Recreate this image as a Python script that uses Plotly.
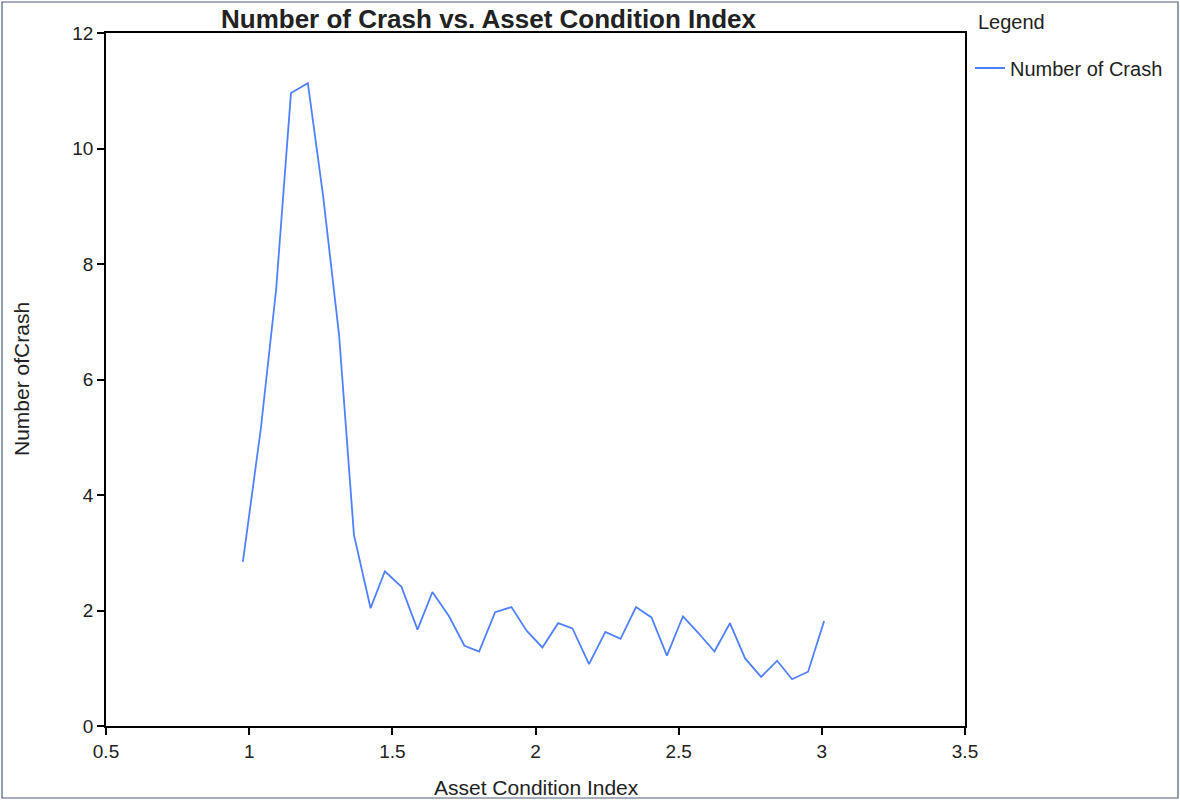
import plotly.graph_objects as go

asset_condition_index = [0.978, 1.041, 1.094, 1.146, 1.205, 1.258, 1.314, 1.366, 1.424, 1.474,
                         1.532, 1.588, 1.640, 1.698, 1.752, 1.803, 1.859, 1.916, 1.969, 2.024,
                         2.079, 2.129, 2.187, 2.244, 2.297, 2.351, 2.405, 2.459, 2.515, 2.569,
                         2.625, 2.679, 2.732, 2.788, 2.844, 2.896, 2.952, 3.008]
number_of_crash = [2.84, 5.16, 7.55, 10.96, 11.13, 9.19, 6.77, 3.31, 2.04, 2.68,
                   2.41, 1.67, 2.32, 1.90, 1.39, 1.29, 1.97, 2.06, 1.65, 1.36,
                   1.78, 1.69, 1.07, 1.63, 1.51, 2.06, 1.88, 1.22, 1.90, 1.61,
                   1.29, 1.78, 1.17, 0.85, 1.13, 0.81, 0.94, 1.82]
x_ticks = [0.5, 1, 1.5, 2, 2.5, 3, 3.5]
x_tick_labels = ["0.5", "1", "1.5", "2", "2.5", "3", "3.5"]
y_ticks = [0, 2, 4, 6, 8, 10, 12]

FONT = "Liberation Sans, Arial, sans-serif"
TXT = "#222222"

W, H = 1180, 801
L, R, T, B = 106, 215, 33, 75
pw, ph = W - L - R, H - T - B


def xp(px):
    return (px - L) / pw


def yp(py):
    return (H - B - py) / ph


fig = go.Figure()
fig.add_trace(go.Scatter(
    x=asset_condition_index, y=number_of_crash, mode="lines",
    name="Number of Crash", line=dict(color="#4f80ff", width=1.8),
))

fig.update_layout(
    width=W, height=H, autosize=False,
    margin=dict(l=L, r=R, t=T, b=B),
    paper_bgcolor="white", plot_bgcolor="white",
    font=dict(family=FONT, size=18, color=TXT),
    showlegend=True,
    legend=dict(
        x=xp(970), y=yp(68), xanchor="left", yanchor="middle",
        font=dict(size=20, family=FONT, color=TXT), bgcolor="rgba(0,0,0,0)",
        itemwidth=30, borderwidth=0,
    ),
    xaxis=dict(
        range=[0.5, 3.5], tickvals=x_ticks, ticktext=x_tick_labels,
        showgrid=False, zeroline=False, showline=True, linecolor="black", linewidth=1.5,
        mirror=True, ticks="outside", ticklen=7, tickcolor="black", tickwidth=1.5,
        tickfont=dict(size=19, family=FONT, color=TXT),
    ),
    yaxis=dict(
        range=[0, 12], tickvals=y_ticks,
        showgrid=False, zeroline=False, showline=True, linecolor="black", linewidth=1.5,
        mirror=True, ticks="outside", ticklen=7, tickcolor="black", tickwidth=1.5,
        tickfont=dict(size=19, family=FONT, color=TXT),
    ),
    annotations=[
        dict(text="<b>Number of Crash vs. Asset Condition Index</b>",
             xref="paper", yref="paper", x=xp(489), y=yp(19),
             xanchor="center", yanchor="middle", showarrow=False,
             font=dict(size=26, family=FONT, color=TXT)),
        dict(text="Asset Condition Index",
             xref="paper", yref="paper", x=xp(536), y=yp(787),
             xanchor="center", yanchor="middle", showarrow=False,
             font=dict(size=21, family=FONT, color=TXT)),
        dict(text="Number ofCrash", textangle=-90,
             xref="paper", yref="paper", x=xp(21), y=yp(379),
             xanchor="center", yanchor="middle", showarrow=False,
             font=dict(size=21, family=FONT, color=TXT)),
        dict(text="Legend",
             xref="paper", yref="paper", x=xp(976), y=yp(22),
             xanchor="left", yanchor="middle", showarrow=False,
             font=dict(size=20, family=FONT, color=TXT)),
    ],
    shapes=[dict(
        type="rect", xref="paper", yref="paper",
        x0=xp(2), x1=xp(W - 2), y0=yp(H - 3), y1=yp(2),
        line=dict(color="#4a5f7a", width=1.2), layer="below",
    )],
)

fig.write_html(
    "out.html",
    config={"displayModeBar": False, "responsive": False},
    post_script="document.body.style.margin='0';document.body.style.overflow='hidden';",
)
